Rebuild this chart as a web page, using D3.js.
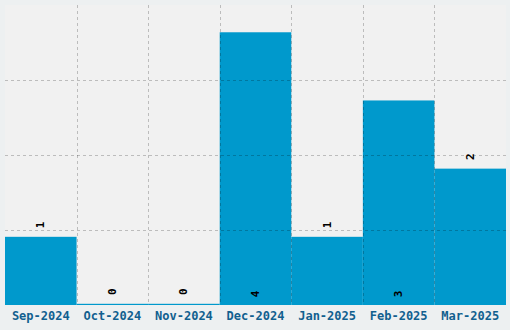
<!DOCTYPE html>
<html><head><meta charset="utf-8">
<script src="https://cdn.jsdelivr.net/npm/d3@7"></script>
<style>html,body{margin:0;padding:0;background:#edf0f1;}svg{display:block;}</style>
</head><body>
<svg id="c" width="510" height="330"></svg>
<script>
const categories = ["Sep-2024","Oct-2024","Nov-2024","Dec-2024","Jan-2025","Feb-2025","Mar-2025"];
const values = [1,0,0,4,1,3,2];
const yMax = 4.4;
const gridCount = 4;

const svg = d3.select("#c");
const W = 510, H = 330;
const m = {top:5, right:4, bottom:25, left:5};
const iw = W - m.left - m.right, ih = H - m.top - m.bottom;

const x = d3.scaleBand().domain(categories).range([m.left, m.left+iw]).padding(0);
const y = d3.scaleLinear().domain([0, yMax]).range([m.top+ih, m.top]);

svg.append("rect").attr("x",m.left).attr("y",m.top).attr("width",iw).attr("height",ih).attr("fill","#f1f1f1");

const g = svg.append("g");
g.selectAll("rect.bar").data(values).join("rect").attr("class","bar")
  .attr("x",(d,i)=>x(categories[i]))
  .attr("width",x.bandwidth())
  .attr("y",d=>Math.min(y(d), y(0)-1.2))
  .attr("height",d=>Math.max(y(0)-y(d),1.2))
  .attr("fill","#0099cc");

// grid on top
const gridTicks = d3.range(1,gridCount).map(k=>k*yMax/gridCount);
g.selectAll("line.hg").data(gridTicks).join("line").attr("class","hg")
  .attr("x1",m.left).attr("x2",m.left+iw)
  .attr("y1",d=>Math.round(y(d))+0.5).attr("y2",d=>Math.round(y(d))+0.5)
  .attr("stroke","#000").attr("stroke-opacity",0.22).attr("stroke-dasharray","3,3");
g.selectAll("line.vg").data(categories.slice(1)).join("line").attr("class","vg")
  .attr("x1",d=>Math.round(x(d))+0.5).attr("x2",d=>Math.round(x(d))+0.5)
  .attr("y1",m.top).attr("y2",m.top+ih)
  .attr("stroke","#000").attr("stroke-opacity",0.22).attr("stroke-dasharray","3,3");

// value labels
g.selectAll("text.v").data(values).join("text").attr("class","v")
  .attr("transform",(d,i)=>{
    const cx = x(categories[i]) + x.bandwidth()/2;
    const top = Math.min(y(d), y(0)-1.2);
    const cy = d >= 3 ? y(0) - 11 : top - 12;
    return `translate(${cx},${cy}) rotate(-90)`;
  })
  .attr("text-anchor","middle").attr("dominant-baseline","central")
  .attr("font-family","DejaVu Sans Mono, monospace").attr("font-weight","bold")
  .attr("font-size","11px").attr("fill","#000")
  .text(d=>d);

// x axis
const xa = svg.append("g").attr("transform",`translate(0,${m.top+ih})`)
  .call(d3.axisBottom(x).tickSize(0).tickPadding(6));
xa.select(".domain").remove();
xa.selectAll("text").attr("font-family","DejaVu Sans Mono, monospace").attr("font-weight","bold")
  .attr("font-size","12px").attr("fill","#11608f");
</script>
</body></html>
